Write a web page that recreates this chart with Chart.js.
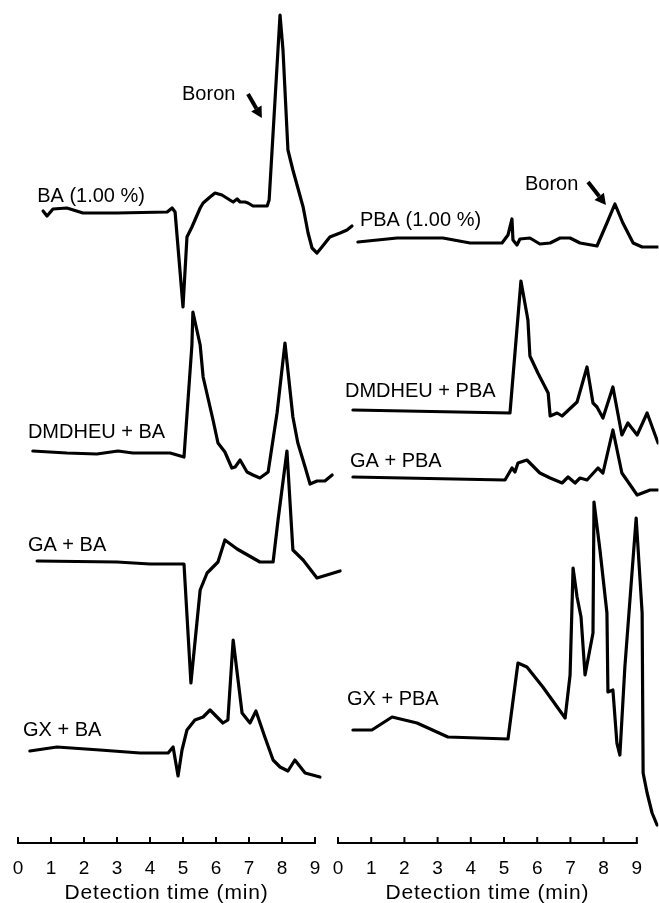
<!DOCTYPE html>
<html>
<head>
<meta charset="utf-8">
<title>Boron detection chromatograms</title>
<script src="https://cdn.jsdelivr.net/npm/chart.js@4.4.1/dist/chart.umd.min.js"></script>
<style>
  html, body { margin: 0; padding: 0; background: #fff; }
  #wrap { position: relative; width: 659px; height: 903px; overflow: hidden; }
  #wrap canvas { position: absolute; top: 0; }
  #leftChart { left: 0; }
  #rightChart { left: 320px; }
</style>
</head>
<body>
<div id="wrap">
  <canvas id="leftChart" width="370" height="903"></canvas>
  <canvas id="rightChart" width="341" height="903"></canvas>
</div>
<script>
// time axis ticks (min)
const timeTicks = [0, 1, 2, 3, 4, 5, 6, 7, 8, 9];

// left panel: boric acid runs. signal is relative to each run's own baseline
const baTime = [0.76, 0.88, 1.06, 1.48, 1.97, 3.0, 4.52, 4.67, 4.76, 5.0, 5.12, 5.27, 5.52, 5.61, 5.82, 5.97, 6.18, 6.42, 6.52, 6.64, 6.73, 6.88, 6.97, 7.12, 7.55, 7.61, 7.94, 8.03, 8.18, 8.33, 8.64, 8.79, 8.91, 9.06, 9.21, 9.45, 9.76, 9.97, 10.12];
const baSignal = [1, -4, 3, 4, -1, -1, 0, 4, 0, -95, -25, -15, 4, 9, 15, 19, 17, 12, 10, 13, 10, 10, 9, 6, 6, 12, 197, 162, 62, 42, 5, -21, -36, -41, -35, -25, -21, -18, -14];

const dmBaTime = [0.45, 1.48, 2.39, 3.03, 3.48, 4.61, 5.03, 5.27, 5.30, 5.52, 5.61, 5.91, 6.06, 6.27, 6.48, 6.58, 6.73, 6.94, 7.12, 7.33, 7.58, 7.85, 8.09, 8.33, 8.48, 8.70, 8.85, 9.06, 9.30, 9.52];
const dmBaSignal = [2, 0, -1, 2, 0, 0, -4, 108, 141, 108, 76, 33, 10, 1, -15, -14, -7, -19, -22, -25, -19, 40, 110, 36, 10, -14, -31, -28, -28, -22];

const gaBaTime = [0.58, 3.0, 4.0, 5.03, 5.24, 5.52, 5.73, 6.06, 6.27, 6.64, 7.33, 7.73, 7.88, 8.15, 8.33, 8.64, 9.06, 9.76];
const gaBaSignal = [2, 1, -1, -1, -120, -27, -10, 1, 23, 14, 1, 1, 43, 112, 13, 3, -15, -8];

const gxBaTime = [0.36, 1.18, 2.48, 3.70, 4.55, 4.70, 4.85, 4.97, 5.12, 5.36, 5.61, 5.82, 6.21, 6.36, 6.52, 6.79, 7.03, 7.21, 7.48, 7.73, 7.94, 8.18, 8.39, 8.70, 9.15];
const gxBaSignal = [1, 5, 2, -1, -1, 5, -24, 2, 22, 32, 35, 42, 29, 32, 112, 39, 29, 41, 15, -8, -15, -19, -8, -21, -25];

// right panel: phenylboronic acid runs
const pbaTime = [0.60, 1.78, 3.16, 3.98, 4.94, 5.12, 5.24, 5.27, 5.39, 5.48, 5.78, 6.08, 6.39, 6.69, 6.99, 7.29, 7.80, 8.10, 8.34, 8.58, 8.89, 9.16, 9.64];
const pbaSignal = [0, 4, 4, -1, -1, 7, 23, 2, -3, 3, 4, -2, -1, 4, 4, -1, -4, 19, 38, 19, -1, -5, -5];

const dmPbaTime = [0.45, 5.18, 5.51, 5.72, 5.78, 6.02, 6.33, 6.39, 6.60, 6.75, 7.20, 7.50, 7.68, 7.80, 7.98, 8.28, 8.55, 8.73, 9.01, 9.31, 9.64];
const dmPbaSignal = [1, -2, 130, 91, 55, 38, 18, -5, -2, -5, 9, 44, 8, 4, -7, 24, -24, -12, -24, -2, -32];

const gaPbaTime = [0.45, 5.03, 5.24, 5.33, 5.42, 5.69, 6.08, 6.39, 6.75, 6.93, 7.14, 7.29, 7.50, 7.83, 7.98, 8.28, 8.55, 9.01, 9.40, 9.64];
const gaPbaSignal = [1, -2, 10, 6, 15, 18, 5, 0, -5, 1, -5, 0, -2, 10, 5, 48, 5, -17, -12, -12];

const gxPbaTime = [0.45, 1.02, 1.63, 2.38, 3.31, 5.12, 5.42, 5.69, 6.17, 6.84, 6.99, 7.08, 7.20, 7.32, 7.44, 7.68, 7.71, 7.89, 8.10, 8.13, 8.28, 8.40, 8.49, 8.64, 8.98, 9.16, 9.19, 9.31, 9.46, 9.61];
const gxPbaSignal = [5, 5, 18, 12, -2, -4, 72, 68, 48, 17, 60, 167, 138, 118, 60, 102, 233, 185, 122, 43, 45, -8, -20, 68, 217, 122, -38, -58, -78, -90];

// run names and how far each trace is lifted above the time axis
const leftRuns = ['BA (1.00 %)', 'DMDHEU + BA', 'GA + BA', 'GX + BA'];
const leftBaselines = [631, 390, 280, 91];
const rightRuns = ['PBA (1.00 %)', 'DMDHEU + PBA', 'GA + PBA', 'GX + PBA'];
const rightBaselines = [601, 432, 365, 108];

const FONT = "'Liberation Sans', Arial, Helvetica, sans-serif";
const INK = '#000';

const toPoints = (time, signal, base) => time.map((t, i) => ({ x: t, y: signal[i] + base }));

const makeDatasets = (runs, series, baselines) => runs.map((name, i) => ({
  label: name,
  data: toPoints(series[i][0], series[i][1], baselines[i]),
  borderColor: INK,
  borderWidth: 3.2,
  pointRadius: 0,
  tension: 0,
  borderJoinStyle: 'round',
  borderCapStyle: 'round'
}));

function drawArrow(ctx, x1, y1, x2, y2) {
  const ang = Math.atan2(y2 - y1, x2 - x1);
  const head = 11, half = 6;
  const bx = x2 - head * Math.cos(ang), by = y2 - head * Math.sin(ang);
  ctx.lineWidth = 4;
  ctx.beginPath();
  ctx.moveTo(x1, y1);
  ctx.lineTo(bx, by);
  ctx.stroke();
  ctx.beginPath();
  ctx.moveTo(x2, y2);
  ctx.lineTo(bx + half * Math.sin(ang), by - half * Math.cos(ang));
  ctx.lineTo(bx - half * Math.sin(ang), by + half * Math.cos(ang));
  ctx.closePath();
  ctx.fill();
}

// the 0-9 min axis line with upward ticks, axis title, run names and the boron arrow
const annotate = {
  id: 'annotate',
  afterDraw(chart) {
    const { ctx, chartArea, scales: { x, y } } = chart;
    const notes = chart.options.plugins.annotate;
    const first = x.getPixelForValue(timeTicks[0]);
    const last = x.getPixelForValue(timeTicks[timeTicks.length - 1]);
    const base = chartArea.bottom;
    ctx.save();
    ctx.strokeStyle = INK;
    ctx.fillStyle = INK;
    ctx.lineWidth = 2;
    ctx.beginPath();
    ctx.moveTo(first - 1, base);
    ctx.lineTo(last + 1, base);
    ctx.stroke();
    timeTicks.forEach(t => {
      const px = x.getPixelForValue(t);
      ctx.beginPath();
      ctx.moveTo(px, base);
      ctx.lineTo(px, base - 6);
      ctx.stroke();
    });

    ctx.font = '21px ' + FONT;
    ctx.textAlign = 'center';
    ctx.textBaseline = 'alphabetic';
    ctx.letterSpacing = '0.8px';
    ctx.fillText('Detection time (min)', (first + last) / 2, base + 56);

    ctx.font = '20px ' + FONT;
    ctx.textAlign = 'left';
    ctx.letterSpacing = '0px';
    notes.labels.forEach(l => {
      ctx.fillText(l.text, x.getPixelForValue(l.x), y.getPixelForValue(l.y));
    });
    const a = notes.arrow;
    drawArrow(ctx, x.getPixelForValue(a[0]), y.getPixelForValue(a[1]),
      x.getPixelForValue(a[2]), y.getPixelForValue(a[3]));
    ctx.restore();
  }
};

function makeOptions(maxTime, padRight, notes) {
  return {
    responsive: false,
    animation: false,
    events: [],
    layout: { padding: { left: 18, right: padRight, top: 0, bottom: 0 } },
    plugins: {
      legend: { display: false },
      tooltip: { enabled: false },
      annotate: notes
    },
    scales: {
      x: {
        type: 'linear',
        min: 0,
        max: maxTime,
        afterFit: s => { s.height = 60; },
        afterBuildTicks: s => { s.ticks = timeTicks.map(v => ({ value: v })); },
        grid: { display: false },
        border: { display: false },
        ticks: { color: INK, font: { family: FONT, size: 19 }, padding: 6, maxRotation: 0, autoSkip: false }
      },
      y: { type: 'linear', min: 0, max: 843, display: false }
    }
  };
}

new Chart(document.getElementById('leftChart'), {
  type: 'line',
  data: {
    datasets: makeDatasets(leftRuns, [[baTime, baSignal], [dmBaTime, dmBaSignal], [gaBaTime, gaBaSignal], [gxBaTime, gxBaSignal]], leftBaselines)
  },
  options: makeOptions(10.2, 15.4, {
    labels: [
      { text: leftRuns[0], x: 0.58, y: 641 },
      { text: 'Boron', x: 4.97, y: 743 },
      { text: leftRuns[1], x: 0.30, y: 405 },
      { text: leftRuns[2], x: 0.30, y: 292 },
      { text: leftRuns[3], x: 0.15, y: 107 }
    ],
    arrow: [6.97, 749, 7.39, 725]
  }),
  plugins: [annotate]
});

new Chart(document.getElementById('rightChart'), {
  type: 'line',
  data: {
    datasets: makeDatasets(rightRuns, [[pbaTime, pbaSignal], [dmPbaTime, dmPbaSignal], [gaPbaTime, gaPbaSignal], [gxPbaTime, gxPbaSignal]], rightBaselines)
  },
  options: makeOptions(9.65, 2.6, {
    labels: [
      { text: rightRuns[0], x: 0.66, y: 617 },
      { text: 'Boron', x: 5.63, y: 653 },
      { text: rightRuns[1], x: 0.21, y: 446 },
      { text: rightRuns[2], x: 0.36, y: 376 },
      { text: rightRuns[3], x: 0.27, y: 138 }
    ],
    arrow: [7.53, 661, 8.07, 638]
  }),
  plugins: [annotate]
});
</script>
</body>
</html>
